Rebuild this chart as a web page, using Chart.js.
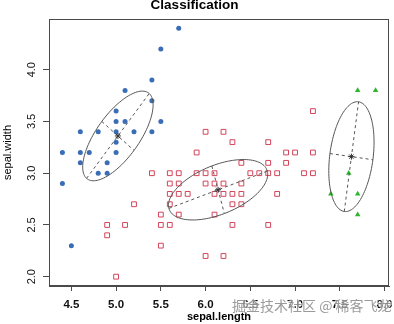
<!DOCTYPE html>
<html><head><meta charset="utf-8">
<script src="https://cdn.jsdelivr.net/npm/chart.js@4/dist/chart.umd.min.js"></script>
<style>html,body{margin:0;padding:0;background:#fff;}</style>
</head><body>
<canvas id="c" width="394" height="324"></canvas>
<script>
// ---- data ----
const blueX = [5.7,5.5,5.4,5.1,5.4,5.0,5.0,5.1,5.5,4.6,4.8,5.0,5.2,5.4,5.0,4.4,4.6,4.7,5.0,4.6,4.9,4.8,4.9,4.4,4.5];
const blueY = [4.4,4.2,3.9,3.8,3.7,3.6,3.5,3.5,3.5,3.4,3.4,3.4,3.4,3.4,3.3,3.2,3.2,3.2,3.2,3.1,3.1,3.0,3.0,2.9,2.3];
const redX = [4.9,4.9,5.0,5.1,5.2,5.4,5.5,5.5,5.5,5.6,5.6,5.6,5.6,5.6,5.7,5.7,5.7,5.7,5.8,5.9,5.9,6.0,6.0,6.0,6.0,6.1,6.1,6.1,6.1,6.2,6.2,6.2,6.2,6.3,6.3,6.3,6.3,6.4,6.4,6.4,6.4,6.5,6.6,6.7,6.7,6.7,6.7,6.8,6.8,6.9,6.9,7.0,7.1,7.2,7.2,7.2];
const redY = [2.5,2.4,2.0,2.5,2.7,3.0,2.6,2.5,2.3,3.0,2.9,2.8,2.7,2.5,3.0,2.9,2.8,2.6,2.8,3.2,3.0,3.4,3.0,2.9,2.2,3.0,2.9,2.8,2.6,3.4,2.9,2.8,2.2,3.3,2.8,2.7,2.5,3.1,2.9,2.8,2.7,3.0,3.0,3.3,3.1,3.0,2.5,3.0,2.8,3.2,3.1,3.2,3.0,3.6,3.2,3.0];
const greenX = [7.7,7.9,7.6,7.4,7.7,7.7];
const greenY = [3.8,3.8,3.0,2.8,2.8,2.6];
// ellipse centres and end points of the two drawn axes (data units)
const ellipseCx = [5.02, 6.14, 7.63];
const ellipseCy = [3.36, 2.84, 3.16];
const majorEndX = [5.37, 6.69, 7.71];
const majorEndY = [3.77, 3.02, 3.69];
const minorEndX = [5.20, 6.21, 7.87];
const minorEndY = [3.22, 2.61, 3.13];
const xTicks = [4.5,5.0,5.5,6.0,6.5,7.0,7.5,8.0];
const yTicks = [2.0,2.5,3.0,3.5,4.0];
const titleText = 'Classification';
const xLabel = 'sepal.length';
const yLabel = 'sepal.width';
const watermark = '掘金技术社区 @ 稀客飞龙';

const FONT = '"Liberation Sans", Arial, Helvetica, sans-serif';
const BLUE = '#3a6db5', RED = '#d2455a', GREEN = '#2fb52f', LINE = '#4a4a4a';

const pts = (xs, ys) => xs.map((x, i) => ({x, y: ys[i]}));

const extras = {
  id: 'extras',
  afterDatasetsDraw(chart) {
    const {ctx, chartArea: a, scales: {x, y}} = chart;
    ctx.save();
    ctx.beginPath(); ctx.rect(a.left, a.top, a.right - a.left, a.bottom - a.top); ctx.clip();
    for (let i = 0; i < ellipseCx.length; i++) {
      const cx = x.getPixelForValue(ellipseCx[i]), cy = y.getPixelForValue(ellipseCy[i]);
      const ax = x.getPixelForValue(majorEndX[i]) - cx, ay = y.getPixelForValue(majorEndY[i]) - cy;
      const bx = x.getPixelForValue(minorEndX[i]) - cx, by = y.getPixelForValue(minorEndY[i]) - cy;
      ctx.strokeStyle = '#555'; ctx.lineWidth = 1; ctx.setLineDash([]);
      ctx.beginPath();
      for (let k = 0; k <= 120; k++) {
        const t = k / 120 * Math.PI * 2;
        const px = cx + ax * Math.cos(t) + bx * Math.sin(t);
        const py = cy + ay * Math.cos(t) + by * Math.sin(t);
        if (k === 0) ctx.moveTo(px, py); else ctx.lineTo(px, py);
      }
      ctx.stroke();
      ctx.setLineDash([3, 3]);
      ctx.beginPath();
      ctx.moveTo(cx - ax, cy - ay); ctx.lineTo(cx + ax, cy + ay);
      ctx.moveTo(cx - bx, cy - by); ctx.lineTo(cx + bx, cy + by);
      ctx.stroke();
      ctx.setLineDash([]);
      ctx.strokeStyle = '#333';
      ctx.beginPath();
      const s = 3;
      ctx.moveTo(cx - s, cy); ctx.lineTo(cx + s, cy);
      ctx.moveTo(cx, cy - s); ctx.lineTo(cx, cy + s);
      ctx.moveTo(cx - s*0.7, cy - s*0.7); ctx.lineTo(cx + s*0.7, cy + s*0.7);
      ctx.moveTo(cx - s*0.7, cy + s*0.7); ctx.lineTo(cx + s*0.7, cy - s*0.7);
      ctx.stroke();
    }
    ctx.restore();
    ctx.save();
    ctx.strokeStyle = LINE; ctx.lineWidth = 1;
    ctx.strokeRect(Math.round(a.left) + 0.5, Math.round(a.top) + 0.5, Math.round(a.right - a.left) - 1, Math.round(a.bottom - a.top) - 1);
    ctx.restore();
  },
  afterDraw(chart) {
    const {ctx} = chart;
    ctx.save();
    ctx.font = '14px "Noto Sans CJK SC", sans-serif';
    ctx.textBaseline = 'middle';
    ctx.textAlign = 'left';
    ctx.lineWidth = 2;
    ctx.strokeStyle = 'rgba(255,255,255,0.6)';
    ctx.strokeText(watermark, 232, 306);
    ctx.fillStyle = 'rgba(120,120,120,0.75)';
    ctx.fillText(watermark, 232, 306);
    ctx.restore();
  }
};

new Chart(document.getElementById('c'), {
  type: 'scatter',
  data: {
    datasets: [
      {data: pts(blueX, blueY), pointStyle: 'circle', pointRadius: 2.5, backgroundColor: BLUE, borderColor: BLUE, borderWidth: 0},
      {data: pts(redX, redY), pointStyle: 'rect', pointRadius: 3.4, backgroundColor: 'rgba(255,255,255,0)', borderColor: RED, borderWidth: 1},
      {data: pts(greenX, greenY), pointStyle: 'triangle', pointRadius: 3.2, backgroundColor: GREEN, borderColor: GREEN, borderWidth: 0}
    ]
  },
  options: {
    responsive: false, animation: false, devicePixelRatio: 1,
    layout: {padding: {left: 0, right: 5, top: 0, bottom: 0}},
    plugins: {
      legend: {display: false}, tooltip: {enabled: false},
      title: {display: true, text: titleText, color: '#000',
        font: {family: FONT, size: 13.5, weight: 'bold', lineHeight: 1.2},
        padding: {top: -2.5, bottom: 5.3}}
    },
    scales: {
      x: {
        type: 'linear', min: 4.25, max: 8.05,
        afterBuildTicks: s => { s.ticks = xTicks.map(v => ({value: v})); },
        afterFit: s => { s.height = 38; s.paddingLeft = 0; s.paddingRight = 0; },
        ticks: {color: '#111', font: {family: FONT, size: 11.5, weight: 'bold'}, padding: 7, maxRotation: 0, autoSkip: false,
          callback: v => Number(v).toFixed(1)},
        grid: {display: true, drawOnChartArea: false, drawTicks: true, tickLength: 5, color: LINE},
        border: {display: true, color: LINE},
        title: {display: true, text: xLabel, color: '#000', font: {family: FONT, size: 11, weight: 'bold'}, padding: {top: 0, bottom: 0}}
      },
      y: {
        type: 'linear', min: 1.91, max: 4.49,
        afterBuildTicks: s => { s.ticks = yTicks.map(v => ({value: v})); },
        afterFit: s => { s.width = 49; s.paddingTop = 0; s.paddingBottom = 0; },
        ticks: {color: '#111', font: {family: FONT, size: 11}, padding: 3, minRotation: 90, maxRotation: 90, crossAlign: 'center', autoSkip: false,
          callback: v => Number(v).toFixed(1)},
        grid: {display: true, drawOnChartArea: false, drawTicks: true, tickLength: 6, color: LINE},
        border: {display: true, color: LINE},
        title: {display: true, text: yLabel, color: '#000', font: {family: FONT, size: 11}, padding: {top: 1.4, bottom: 0}}
      }
    }
  },
  plugins: [extras]
});
</script>
</body></html>
